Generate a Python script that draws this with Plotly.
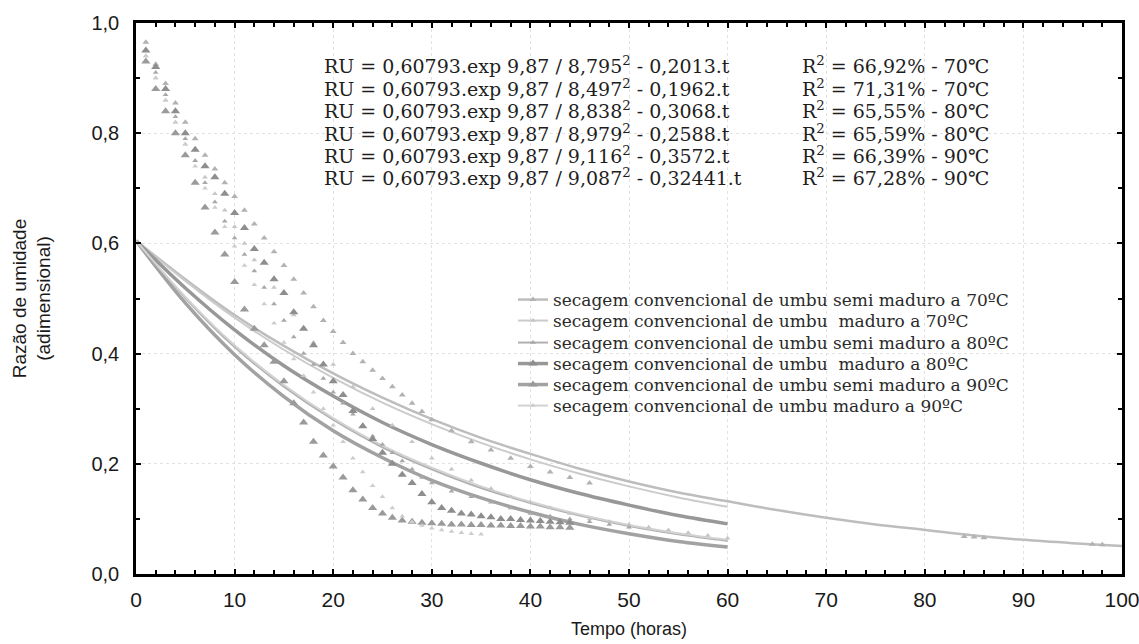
import plotly.graph_objects as go

# ---------------- data ----------------
t_fit_long = [0, 5, 10, 15, 20, 25, 30, 35, 40, 45, 50, 55, 60, 65, 70, 75, 80, 85, 90, 95, 100]
t_fit = [0, 5, 10, 15, 20, 25, 30, 35, 40, 45, 50, 55, 60]

fit_semi70 = [0.605, 0.535, 0.470, 0.414, 0.364, 0.320, 0.281, 0.247, 0.218, 0.191, 0.168, 0.148,
              0.132, 0.116, 0.102, 0.090, 0.080, 0.070, 0.062, 0.056, 0.051]
fit_mad70 = [0.605, 0.532, 0.465, 0.407, 0.356, 0.311, 0.272, 0.238, 0.208, 0.182, 0.159, 0.139, 0.122]
fit_semi80 = [0.605, 0.501, 0.412, 0.340, 0.280, 0.230, 0.190, 0.156, 0.129, 0.106, 0.087, 0.072, 0.060]
fit_mad80 = [0.605, 0.519, 0.443, 0.378, 0.323, 0.275, 0.235, 0.201, 0.171, 0.146, 0.125, 0.106, 0.091]
fit_semi90 = [0.605, 0.492, 0.398, 0.322, 0.260, 0.211, 0.170, 0.138, 0.112, 0.090, 0.073, 0.059, 0.049]
fit_mad90 = [0.605, 0.503, 0.415, 0.343, 0.283, 0.233, 0.193, 0.159, 0.131, 0.108, 0.089, 0.074, 0.062]

t_semi70 = [1, 2, 3, 4, 5, 6, 7, 8, 9, 10, 11, 12, 13, 14, 15, 16, 17, 18, 19, 20, 21, 22, 23, 24, 25,
            26, 27, 28, 29, 30, 32, 34, 36, 38, 40, 42, 44, 46, 84, 85, 86, 97, 98]
ru_semi70 = [0.965, 0.925, 0.89, 0.855, 0.82, 0.79, 0.76, 0.735, 0.71, 0.685, 0.66, 0.635, 0.61, 0.585,
             0.56, 0.535, 0.51, 0.485, 0.46, 0.44, 0.42, 0.40, 0.385, 0.37, 0.355, 0.34, 0.325, 0.31,
             0.295, 0.28, 0.26, 0.24, 0.225, 0.21, 0.195, 0.185, 0.175, 0.165, 0.068, 0.067, 0.066,
             0.054, 0.053]

t_mad70 = [1, 2, 3, 4, 5, 6, 7, 8, 9, 10, 11, 12, 14, 16, 18, 20, 22, 24, 26, 28, 30, 32, 34, 36, 38,
           40, 42, 44, 46, 48, 50, 52, 54, 56, 58, 60]
ru_mad70 = [0.94, 0.90, 0.86, 0.82, 0.78, 0.75, 0.72, 0.69, 0.66, 0.63, 0.60, 0.57, 0.52, 0.47, 0.42,
            0.38, 0.34, 0.30, 0.27, 0.24, 0.21, 0.19, 0.17, 0.155, 0.14, 0.13, 0.12, 0.11, 0.10, 0.095,
            0.09, 0.085, 0.08, 0.075, 0.07, 0.065]

t_semi80 = [1, 2, 3, 4, 5, 6, 7, 8, 9, 10, 11, 12, 13, 14, 15, 16, 17, 18, 19, 20, 21, 22, 23, 24, 25,
            26, 27, 28, 29, 30, 32, 34, 36, 38, 40, 42, 44, 46, 48, 50]
ru_semi80 = [0.95, 0.91, 0.87, 0.83, 0.79, 0.75, 0.71, 0.675, 0.64, 0.61, 0.58, 0.55, 0.52, 0.49, 0.46,
             0.43, 0.40, 0.38, 0.355, 0.33, 0.31, 0.29, 0.27, 0.25, 0.235, 0.22, 0.205, 0.19, 0.175,
             0.165, 0.15, 0.14, 0.13, 0.12, 0.11, 0.105, 0.10, 0.095, 0.09, 0.085]

t_mad80 = [1, 2, 3, 4, 5, 6, 7, 8, 9, 10, 11, 12, 13, 14, 15, 16, 17, 18, 19, 20, 21, 22, 23, 24, 25,
           26, 27, 28, 29, 30, 31, 32, 33, 34, 35, 36, 37, 38, 39, 40, 41, 42, 43, 44]
ru_mad80 = [0.95, 0.92, 0.88, 0.84, 0.80, 0.77, 0.74, 0.72, 0.69, 0.655, 0.628, 0.59, 0.565, 0.535,
            0.51, 0.475, 0.445, 0.415, 0.38, 0.35, 0.325, 0.296, 0.268, 0.245, 0.22, 0.20, 0.18, 0.165,
            0.145, 0.13, 0.12, 0.115, 0.11, 0.108, 0.105, 0.103, 0.10, 0.10, 0.098, 0.097, 0.096,
            0.095, 0.094, 0.093]

t_semi90 = [1, 2, 3, 4, 5, 6, 7, 8, 9, 10, 11, 12, 13, 14, 15, 16, 17, 18, 19, 20, 21, 22, 23, 24, 25,
            26, 27, 28, 29, 30, 31, 32, 33, 34, 35, 36, 37, 38, 39, 40, 41, 42, 43, 44]
ru_semi90 = [0.93, 0.88, 0.84, 0.80, 0.76, 0.71, 0.665, 0.62, 0.58, 0.53, 0.48, 0.445, 0.415, 0.385,
             0.35, 0.31, 0.275, 0.24, 0.215, 0.195, 0.175, 0.152, 0.135, 0.12, 0.11, 0.102, 0.097,
             0.095, 0.093, 0.092, 0.091, 0.09, 0.09, 0.089, 0.089, 0.088, 0.088, 0.087, 0.087, 0.086,
             0.086, 0.085, 0.085, 0.084]

t_mad90 = [1, 2, 3, 4, 5, 6, 7, 8, 9, 10, 11, 12, 13, 14, 15, 16, 17, 18, 19, 20, 21, 22, 23, 24, 25,
           26, 27, 28, 29, 30, 31, 32, 33, 34, 35]
ru_mad90 = [0.94, 0.90, 0.86, 0.82, 0.78, 0.74, 0.70, 0.665, 0.63, 0.595, 0.56, 0.525, 0.49, 0.455,
            0.42, 0.39, 0.36, 0.33, 0.30, 0.27, 0.24, 0.21, 0.185, 0.16, 0.14, 0.12, 0.105, 0.095,
            0.088, 0.083, 0.08, 0.077, 0.075, 0.073, 0.072]

names = [
    "secagem convencional de umbu semi maduro a 70ºC",
    "secagem convencional de umbu\u00a0 maduro a 70ºC",
    "secagem convencional de umbu semi maduro a 80ºC",
    "secagem convencional de umbu\u00a0 maduro a 80ºC",
    "secagem convencional de umbu semi maduro a 90ºC",
    "secagem convencional de umbu maduro a 90ºC",
]

equations = [
    "RU = 0,60793.exp 9,87 / 8,795<sup>2</sup> - 0,2013.t",
    "RU = 0,60793.exp 9,87 / 8,497<sup>2</sup> - 0,1962.t",
    "RU = 0,60793.exp 9,87 / 8,838<sup>2</sup> - 0,3068.t",
    "RU = 0,60793.exp 9,87 / 8,979<sup>2</sup> - 0,2588.t",
    "RU = 0,60793.exp 9,87 / 9,116<sup>2</sup> - 0,3572.t",
    "RU = 0,60793.exp 9,87 / 9,087<sup>2</sup> - 0,32441.t",
]
r2_texts = [
    "R<sup>2</sup> = 66,92% - 70℃",
    "R<sup>2</sup> = 71,31% - 70℃",
    "R<sup>2</sup> = 65,55% - 80℃",
    "R<sup>2</sup> = 65,59% - 80℃",
    "R<sup>2</sup> = 66,39% - 90℃",
    "R<sup>2</sup> = 67,28% - 90℃",
]

series = [
    dict(tf=t_fit_long, yf=fit_semi70, td=t_semi70, yd=ru_semi70, lc="#bdbdbd", lw=2.5, mc="#b2b2b2", ms=6),
    dict(tf=t_fit, yf=fit_mad70, td=t_mad70, yd=ru_mad70, lc="#cbcbcb", lw=2, mc="#c6c6c6", ms=5),
    dict(tf=t_fit, yf=fit_semi80, td=t_semi80, yd=ru_semi80, lc="#b0b0b0", lw=2, mc="#a8a8a8", ms=5),
    dict(tf=t_fit, yf=fit_mad80, td=t_mad80, yd=ru_mad80, lc="#989898", lw=3.5, mc="#8e8e8e", ms=8),
    dict(tf=t_fit, yf=fit_semi90, td=t_semi90, yd=ru_semi90, lc="#a2a2a2", lw=3.5, mc="#9a9a9a", ms=8),
    dict(tf=t_fit, yf=fit_mad90, td=t_mad90, yd=ru_mad90, lc="#d2d2d2", lw=2, mc="#cdcdcd", ms=5),
]

# ---------------- layout geometry ----------------
W, H = 1139, 644
PLOT_TOP, PLOT_BOTTOM, PLOT_LEFT, PLOT_RIGHT = 23, 574, 136, 1122


def py(y):
    return (PLOT_BOTTOM - y) / (PLOT_BOTTOM - PLOT_TOP)


def px(x):
    return (x - PLOT_LEFT) / (PLOT_RIGHT - PLOT_LEFT)


eq_rows = [65, 87.5, 110, 132.5, 155, 177.5]
legend_rows = [300, 321, 343, 364, 385, 406]
legend_ids = ["legend", "legend2", "legend3", "legend4", "legend5", "legend6"]

fig = go.Figure()

# fitted curves (beneath)
for i, s in enumerate(series):
    fig.add_trace(go.Scatter(x=s["tf"], y=s["yf"], mode="lines",
                             line=dict(color=s["lc"], width=s["lw"], shape="spline"),
                             legendgroup=f"g{i}", showlegend=False, hoverinfo="skip"))
# experimental points
for i, s in enumerate(series):
    fig.add_trace(go.Scatter(x=s["td"], y=s["yd"], mode="markers",
                             marker=dict(symbol="triangle-up", size=s["ms"], color=s["mc"], line=dict(width=0)),
                             legendgroup=f"g{i}", showlegend=False))
# legend entries (one legend per row so the rows can sit close together)
for i, s in enumerate(series):
    fig.add_trace(go.Scatter(x=[None], y=[None], mode="lines+markers", name=names[i],
                             line=dict(color=s["lc"], width=s["lw"]),
                             marker=dict(symbol="triangle-up", size=s["ms"], color=s["mc"]),
                             legendgroup=f"g{i}", showlegend=True, legend=legend_ids[i]))

annotations = []
serif = "DejaVu Serif, serif"
for i in range(6):
    annotations.append(dict(text=equations[i], x=px(322), y=py(eq_rows[i]), xref="paper", yref="paper",
                            xanchor="left", yanchor="middle", showarrow=False,
                            font=dict(family=serif, size=19, color="#1e1e1e")))
    annotations.append(dict(text=r2_texts[i], x=px(800), y=py(eq_rows[i]), xref="paper", yref="paper",
                            xanchor="left", yanchor="middle", showarrow=False,
                            font=dict(family=serif, size=19, color="#1e1e1e")))

layout_legends = {}
for i, lid in enumerate(legend_ids):
    layout_legends[lid] = dict(x=px(513), y=py(legend_rows[i]), xanchor="left", yanchor="middle",
                               bgcolor="rgba(0,0,0,0)", borderwidth=0,
                               font=dict(family="DejaVu Serif, serif", size=17, color="#2a2a2a"))

fig.update_layout(
    width=W, height=H,
    margin=dict(l=PLOT_LEFT, r=W - PLOT_RIGHT, t=PLOT_TOP, b=H - PLOT_BOTTOM, autoexpand=False),
    paper_bgcolor="white", plot_bgcolor="white",
    separators=",.",
    showlegend=True,
    annotations=annotations,
    font=dict(family="Liberation Sans, Arial, sans-serif", color="#1a1a1a"),
    **layout_legends,
)

sans = "Liberation Sans, Arial, sans-serif"
fig.update_xaxes(
    range=[0, 100], tickmode="array", tickvals=[0, 10, 20, 30, 40, 50, 60, 70, 80, 90, 100],
    ticks="inside", ticklen=5, tickwidth=2, tickcolor="black",
    minor=dict(dtick=2, ticks="inside", ticklen=4, tickwidth=2, tickcolor="black", showgrid=False),
    showline=True, linecolor="black", linewidth=2.5, mirror="allticks",
    showgrid=True, gridcolor="#e2e2e2", griddash="dot", gridwidth=1,
    zeroline=False, automargin=False, ticklabelstandoff=5, ticklabeloverflow="allow",
    tickfont=dict(size=21, family=sans),
    title=dict(text="Tempo (horas)", font=dict(size=18, family=sans), standoff=13),
)
fig.update_yaxes(
    range=[0, 1], tickmode="array", tickvals=[0, 0.2, 0.4, 0.6, 0.8, 1.0],
    ticktext=["0,0", "0,2", "0,4", "0,6", "0,8", "1,0"],
    ticks="inside", ticklen=5, tickwidth=2, tickcolor="black",
    minor=dict(dtick=0.1, ticks="inside", ticklen=4, tickwidth=2, tickcolor="black", showgrid=False),
    showline=True, linecolor="black", linewidth=2.5, mirror="allticks",
    showgrid=True, gridcolor="#e2e2e2", griddash="dot", gridwidth=1,
    zeroline=False, automargin=False, ticklabelstandoff=10, ticklabeloverflow="allow",
    tickfont=dict(size=20, family=sans),
    title=dict(text="Razão de umidade<br>(adimensional)", font=dict(size=19, family=sans), standoff=36),
)

fig.write_html("out.html", config={"displayModeBar": False},
               post_script="document.body.style.margin='0';")
